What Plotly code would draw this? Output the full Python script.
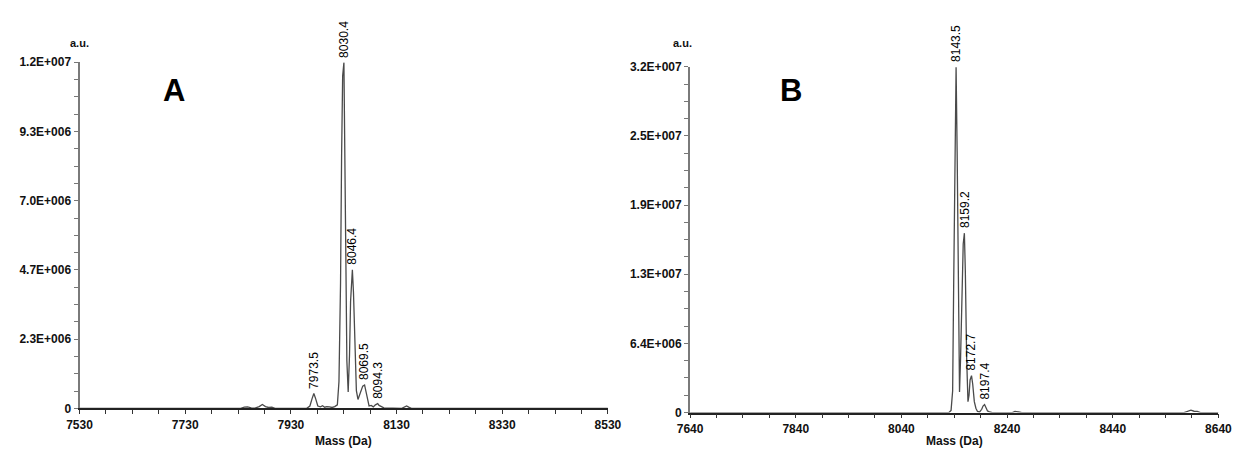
import numpy as np
import plotly.graph_objects as go

# ---- Spectrum A (deconvoluted mass, intensity in a.u.) ----
mass_a = [7530, 7835, 7842, 7848, 7855, 7862, 7870, 7876, 7882, 7888, 7894, 7900,
          7960, 7966, 7970, 7973.5, 7977, 7981, 7986, 7990, 7994, 7998, 8003, 8008,
          8013, 8018, 8021, 8024, 8026, 8028, 8030.4, 8032, 8034, 8036, 8038.5, 8041,
          8043, 8046.4, 8048.5, 8051, 8054, 8057, 8060, 8063, 8066, 8069.5, 8072, 8075,
          8078, 8082, 8086, 8090, 8094.3, 8097, 8101, 8106, 8140, 8145, 8149, 8153,
          8158, 8530]
int_a = [0.0, 0.0, 0.04e6, 0.05e6, 0.02e6, 0.01e6, 0.06e6, 0.13e6, 0.06e6, 0.03e6, 0.04e6, 0.0,
         0.0, 0.08e6, 0.32e6, 0.50e6, 0.32e6, 0.08e6, 0.05e6, 0.09e6, 0.04e6, 0.06e6, 0.05e6, 0.03e6,
         0.06e6, 0.12e6, 0.9e6, 4.2e6, 8.5e6, 11.2e6, 11.66e6, 9.0e6, 4.5e6, 1.6e6, 0.55e6, 1.8e6,
         3.6e6, 4.67e6, 3.9e6, 2.0e6, 0.6e6, 0.3e6, 0.45e6, 0.6e6, 0.75e6, 0.79e6, 0.55e6, 0.25e6,
         0.08e6, 0.1e6, 0.05e6, 0.12e6, 0.16e6, 0.1e6, 0.07e6, 0.02e6, 0.0, 0.05e6, 0.08e6, 0.04e6,
         0.0, 0.0]
peaks_a = [7973.5, 8030.4, 8046.4, 8069.5, 8094.3]
peak_int_a = [0.50e6, 11.66e6, 4.67e6, 0.79e6, 0.16e6]

# ---- Spectrum B ----
mass_b = [7640, 8130, 8134, 8137, 8139, 8141, 8143.5, 8145.5, 8147.5, 8150, 8152, 8155,
          8157, 8159.2, 8161, 8163.5, 8166, 8168, 8170, 8172.7, 8175, 8178, 8181, 8184,
          8188, 8192, 8194.5, 8197.4, 8200, 8203, 8207, 8212, 8250, 8255, 8262, 8268,
          8575, 8582, 8588, 8594, 8600, 8606, 8640]
int_b = [0.0, 0.0, 0.2e6, 2.0e6, 12e6, 24.5e6, 31.75e6, 24e6, 11e6, 1.9e6, 5e6, 12e6,
         15.5e6, 16.5e6, 13e6, 5e6, 1.0e6, 1.6e6, 3.0e6, 3.4e6, 2.6e6, 1.0e6, 0.4e6, 0.1e6,
         0.05e6, 0.3e6, 0.6e6, 0.74e6, 0.45e6, 0.15e6, 0.05e6, 0.0, 0.0, 0.1e6, 0.05e6, 0.0,
         0.0, 0.12e6, 0.22e6, 0.12e6, 0.1e6, 0.0, 0.0]
peaks_b = [8143.5, 8159.2, 8172.7, 8197.4]
peak_int_b = [31.75e6, 16.5e6, 3.4e6, 0.74e6]

# ---- Axis tick labels ----
ymax_a = 1.1667e7
ytext_a = ["0", "2.3E+006", "4.7E+006", "7.0E+006", "9.3E+006", "1.2E+007"]
ymax_b = 3.18e7
ytext_b = ["0", "6.4E+006", "1.3E+007", "1.9E+007", "2.5E+007", "3.2E+007"]
xrange_a = [7530, 8530]
xrange_b = [7640, 8640]

W, H = 1251, 459
FONT = "Liberation Sans, Arial, sans-serif"
LINE = "#4a4a4a"

fig = go.Figure()
fig.add_trace(go.Scatter(x=mass_a, y=int_a, mode="lines", xaxis="x", yaxis="y",
                         line=dict(color=LINE, width=1.3), showlegend=False, hoverinfo="skip"))
fig.add_trace(go.Scatter(x=mass_b, y=int_b, mode="lines", xaxis="x2", yaxis="y2",
                         line=dict(color=LINE, width=1.3), showlegend=False, hoverinfo="skip"))


def xaxis_cfg(rng, dom):
    return dict(
        domain=dom, range=rng, tickmode="array",
        tickvals=list(np.arange(rng[0], rng[1] + 1, 200)),
        ticktext=[str(v) for v in np.arange(rng[0], rng[1] + 1, 200)],
        ticks="outside", ticklen=4, tickwidth=1.2, tickcolor="#333",
        showline=True, linecolor="#222", linewidth=1.6,
        showgrid=False, zeroline=False,
        tickfont=dict(family=FONT, size=12, color="#111", weight="bold"),
        minor=dict(tickmode="array", tickvals=list(np.arange(rng[0], rng[1] + 1, 50)),
                   ticks="outside", ticklen=4, tickwidth=1.2, tickcolor="#333"),
    )


def yaxis_cfg(ymax, texts, dom, anchor):
    return dict(
        domain=dom, range=[0, ymax], anchor=anchor, tickmode="array",
        tickvals=list(np.linspace(0, ymax, 6)), ticktext=texts,
        ticks="outside", ticklen=4, tickwidth=1.2, tickcolor="#777",
        showline=True, linecolor="#7a7a7a", linewidth=2,
        showgrid=False, zeroline=False,
        tickfont=dict(family=FONT, size=12, color="#111", weight="bold"),
        minor=dict(tickmode="array", tickvals=list(np.linspace(0, ymax, 21)),
                   ticks="outside", ticklen=4, tickwidth=1.2, tickcolor="#777"),
    )


dom_xa = [68 / W, 608 / W]
dom_xb = [692 / W, 1232 / W]
dom_ya = [(H - 414) / H, (H - 57) / H]
dom_yb = [(H - 418.3) / H, (H - 61.7) / H]

fig.update_layout(
    width=W, height=H, autosize=False,
    margin=dict(l=0, r=0, t=0, b=0),
    paper_bgcolor="white", plot_bgcolor="white",
    xaxis=dict(xaxis_cfg(xrange_a, dom_xa), anchor="y"),
    yaxis=yaxis_cfg(ymax_a, ytext_a, dom_ya, "x"),
    xaxis2=dict(xaxis_cfg(xrange_b, dom_xb), anchor="y2"),
    yaxis2=yaxis_cfg(ymax_b, ytext_b, dom_yb, "x2"),
)

# Peak mass labels, rotated above each peak
for xs, ys, xr, yr in [(peaks_a, peak_int_a, "x", "y"), (peaks_b, peak_int_b, "x2", "y2")]:
    for m, v in zip(xs, ys):
        fig.add_annotation(x=m, y=v, xref=xr, yref=yr, text=f"{m:.1f}", showarrow=False,
                           textangle=-90, xanchor="center", yanchor="bottom", yshift=3,
                           font=dict(family=FONT, size=12, color="#000"))

# Axis captions and panel letters
for xc, text in [((dom_xa[0] + dom_xa[1]) / 2, "Mass (Da)"), ((dom_xb[0] + dom_xb[1]) / 2, "Mass (Da)")]:
    fig.add_annotation(x=xc, y=(H - 448) / H, xref="paper", yref="paper", text=text,
                       showarrow=False, xanchor="center", yanchor="middle",
                       font=dict(family=FONT, size=12, color="#111", weight="bold"))
for xc in [67.5 / W, 684 / W]:
    fig.add_annotation(x=xc, y=(H - 37) / H, xref="paper", yref="paper", text="a.u.",
                       showarrow=False, xanchor="center", yanchor="middle",
                       font=dict(family=FONT, size=11, color="#111", weight="bold"))
for xc, letter in [(165 / W, "A"), (795 / W, "B")]:
    fig.add_annotation(x=xc, y=(H - 86) / H, xref="paper", yref="paper", text=letter,
                       showarrow=False, xanchor="center", yanchor="middle",
                       font=dict(family=FONT, size=31, color="#000", weight="bold"))

fig.write_html("out.html")
